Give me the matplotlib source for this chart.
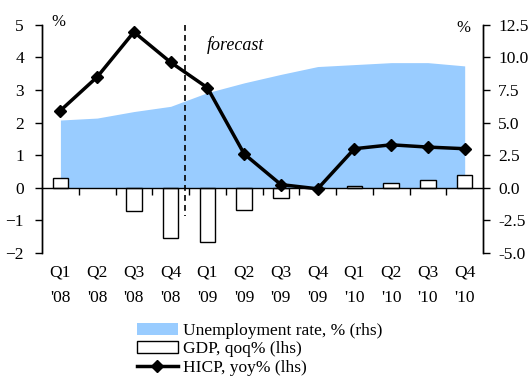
import numpy as np
import matplotlib.pyplot as plt
import matplotlib.transforms as mtransforms

plt.rcParams["font.family"] = ["Liberation Serif", "DejaVu Serif"]

quarters = ["Q1", "Q2", "Q3", "Q4", "Q1", "Q2", "Q3", "Q4", "Q1", "Q2", "Q3", "Q4"]
years = ["'08", "'08", "'08", "'08", "'09", "'09", "'09", "'09", "'10", "'10", "'10", "'10"]

# unemployment rate, % (rhs)
unemp = [5.2, 5.35, 5.85, 6.25, 7.3, 8.05, 8.7, 9.3, 9.45, 9.6, 9.6, 9.35]
# GDP qoq % (lhs), no bar shown for Q2 '08
gdp = [0.3, np.nan, -0.72, -1.55, -1.65, -0.68, -0.32, 0.0, 0.05, 0.15, 0.25, 0.4]
# HICP yoy % (lhs)
hicp = [2.37, 3.4, 4.78, 3.85, 3.07, 1.04, 0.1, -0.03, 1.2, 1.32, 1.25, 1.2]

x = np.arange(len(quarters))

fig = plt.figure(figsize=(5.32, 3.76), dpi=100)
ax = fig.add_axes([0.079, 0.327, 0.829, 0.607])
ax2 = ax.twinx()

# area on the right axis, kept behind the lhs series
ax2.fill_between(x, unemp, 0, color="#99ccff", lw=0)
ax.set_zorder(ax2.get_zorder() + 1)
ax.patch.set_visible(False)

bars = ax.bar(x, gdp, width=0.42, color="white", edgecolor="black", lw=1.0)
line, = ax.plot(x, hicp, color="black", lw=2.5, marker="D", ms=6.5)
ax.plot([3.4, 3.4], [5.0, -0.85], color="black", ls=(0, (3.5, 2.5)), lw=1.2)
ax.text(3.98, 4.37, "forecast", style="italic", fontsize=13, va="center")

ax.set_xlim(-0.5, 11.5)
ax.set_ylim(-2, 5)
ax.set_yticks(range(-2, 6))
ax2.set_ylim(-5, 12.5)
ax2.set_yticks(np.arange(-5, 12.6, 2.5))
ax2.set_yticklabels(["%.1f" % v for v in np.arange(-5, 12.6, 2.5)])

for a in (ax, ax2):
    a.spines["top"].set_visible(False)
ax.spines["bottom"].set_position(("data", 0))
ax2.spines["bottom"].set_visible(False)
ax.set_xticks(np.arange(0.5, 11, 1))
ax.set_xticklabels([])
ax.tick_params(axis="x", direction="out", length=5, width=1)
ax.tick_params(axis="y", direction="out", length=5, width=1, labelsize=12.5, pad=8)
ax2.tick_params(axis="y", direction="out", length=5, width=1, labelsize=12.5, pad=6)
for a in (ax, ax2):
    for s in a.spines.values():
        s.set_linewidth(1)

trans = mtransforms.blended_transform_factory(ax.transData, ax.transAxes)
for i in range(len(quarters)):
    ax.text(x[i], -0.085, quarters[i], transform=trans, ha="center", va="center", fontsize=12.5)
    ax.text(x[i], -0.195, years[i], transform=trans, ha="center", va="center", fontsize=12.5)

ax.text(0.036, 1.013, "%", transform=ax.transAxes, ha="center", va="center", fontsize=12)
ax.text(0.955, 0.987, "%", transform=ax.transAxes, ha="center", va="center", fontsize=12)

h_area = plt.Rectangle((0, 0), 1, 1, color="#99ccff", lw=0)
fig.legend([h_area, bars, line],
           ["Unemployment rate, % (rhs)", "GDP, qoq% (lhs)", "HICP, yoy% (lhs)"],
           loc="upper left", bbox_to_anchor=(137 / 532, 1 - 323 / 376),
           frameon=False, fontsize=12.5, borderpad=0, handlelength=2.35,
           handletextpad=0.3, labelspacing=0.12, borderaxespad=0)

fig.savefig("out.png", dpi=100)
